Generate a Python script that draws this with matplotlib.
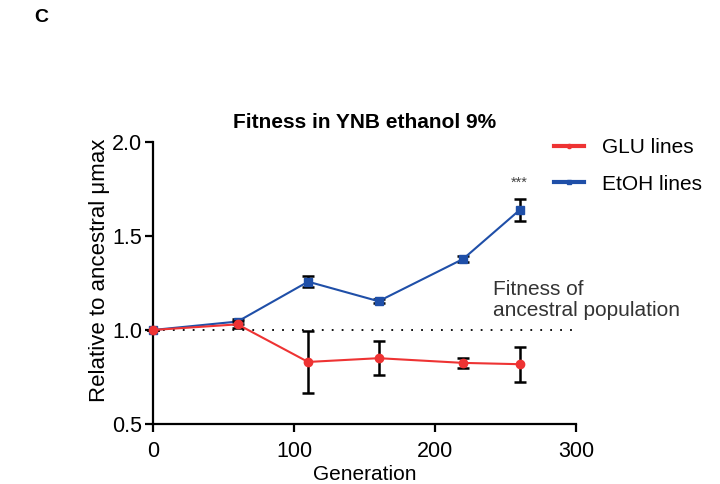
import matplotlib.pyplot as plt
from matplotlib.lines import Line2D

plt.rcParams['font.family'] = ['Liberation Sans', 'DejaVu Sans']

generation = [0, 60, 110, 160, 220, 260]

glu_mean = [1.0, 1.03, 0.83, 0.85, 0.825, 0.818]
glu_err = [0.0, 0.02, 0.167, 0.09, 0.027, 0.094]

etoh_mean = [1.0, 1.045, 1.257, 1.153, 1.378, 1.638]
etoh_err = [0.0, 0.015, 0.03, 0.01, 0.018, 0.058]

red = "#ee3333"
blue = "#1f4fa8"

fig = plt.figure(figsize=(7.2, 4.84), dpi=100)
ax = fig.add_axes([0.2125, 0.124, 0.5875, 0.5826])

# ancestral reference line
ax.plot([0, 300], [1.0, 1.0], linestyle=(0, (1, 4.5)), color="k", linewidth=1.3, zorder=1)

ax.errorbar(generation, glu_mean, yerr=glu_err, color=red, marker="o", markersize=6,
            linewidth=1.5, ecolor="k", elinewidth=1.8, capsize=4, capthick=1.8, zorder=3)
ax.errorbar(generation, etoh_mean, yerr=etoh_err, color=blue, marker="s", markersize=6,
            linewidth=1.5, ecolor="k", elinewidth=1.8, capsize=4, capthick=1.8, zorder=2)

ax.text(260, 1.745, "***", ha="center", va="bottom", fontsize=10.5, color="#444444")
ax.text(241, 1.16, "Fitness of\nancestral population", ha="left", va="center",
        fontsize=15, color="#333333", linespacing=1.15)

ax.set_xlim(0, 300)
ax.set_ylim(0.5, 2.0)
ax.set_xticks([0, 100, 200, 300])
ax.set_yticks([0.5, 1.0, 1.5, 2.0])
ax.set_yticklabels(["0.5", "1.0", "1.5", "2.0"])

for s in ["top", "right"]:
    ax.spines[s].set_visible(False)
for s in ["left", "bottom"]:
    ax.spines[s].set_linewidth(1.6)
ax.tick_params(width=1.6, length=6, labelsize=15.5)
ax.tick_params(axis="x", pad=6.5)
ax.tick_params(axis="y", pad=2)

ax.set_xlabel("Generation", fontsize=15, labelpad=2)
ax.set_ylabel("Relative to ancestral μmax", fontsize=16)
ax.yaxis.set_label_coords(-0.102, 0.546)
ax.set_title("Fitness in YNB ethanol 9%", fontsize=15, fontweight="bold", pad=10)

handles = [Line2D([], [], color=red, marker="o", markersize=3, linewidth=3),
           Line2D([], [], color=blue, marker="s", markersize=3, linewidth=3)]
ax.legend(handles, ["GLU lines", "EtOH lines"], loc="upper left", bbox_to_anchor=(0.948, 1.014),
          frameon=False, fontsize=15, handlelength=1.45, handletextpad=0.85,
          labelspacing=0.85, borderaxespad=0, borderpad=0)

fig.text(0.057, 0.964, "C", fontsize=14, fontweight="bold", va="center", ha="center")

for l in ax.lines:
    l.set_clip_on(False)

fig.savefig("out.png", dpi=100)
